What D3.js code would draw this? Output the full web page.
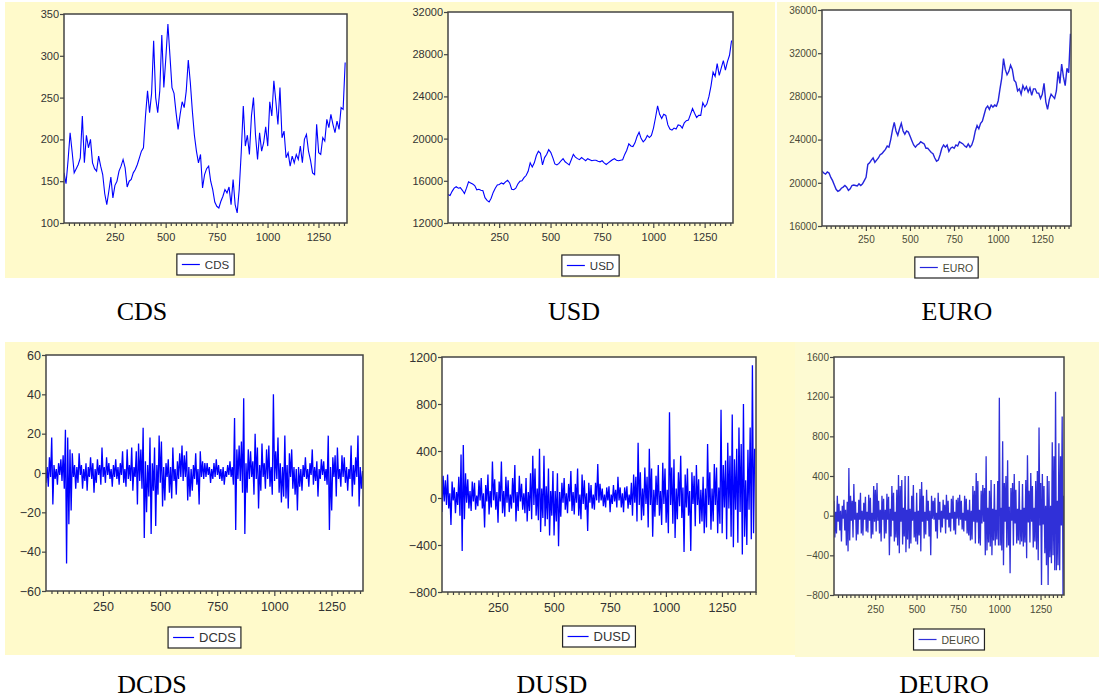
<!DOCTYPE html>
<html>
<head>
<meta charset="utf-8">
<script src="https://cdn.jsdelivr.net/npm/d3@7"></script>
<style>
  body { margin: 0; background: #fff; }
  svg { display: block; }
  .axis text { font-family: Arial, "Liberation Sans", sans-serif; }
  .legend text { font-family: Arial, "Liberation Sans", sans-serif; }
  .caption { font-family: "Times New Roman", "Liberation Serif", serif; font-size: 26px; fill: #000; }
</style>
</head>
<body>
<svg id="chart" width="1099" height="699"></svg>
<script>
// level series, one value every 10 observations (obs 1, 11, 21, ...)
const cds = [160,147,175,208,185,160,165,170,178,228,172,205,190,200,172,165,162,180,168,158,
  135,122,138,155,130,145,150,162,168,176,166,143,150,152,160,164,170,178,186,190,
  228,258,232,255,318,250,232,258,325,262,298,338,300,262,255,232,212,230,245,238,
  258,295,268,234,205,186,172,182,142,158,165,168,150,140,125,120,118,126,132,140,
  136,143,122,152,122,112,140,185,240,192,205,182,228,250,205,176,208,186,196,215,
  192,245,228,270,245,218,262,202,210,178,184,168,180,172,182,176,192,172,200,206,
  186,175,160,158,218,184,182,202,198,224,214,230,218,208,222,212,238,236,292];

const usd = [14700,14600,15000,15300,15450,15300,15350,15100,14800,15300,15900,15800,15700,15550,15150,15200,15100,15050,14400,14150,
  14000,14350,14900,15300,15600,15650,15800,15700,15900,16050,15800,15200,15150,15300,15700,15950,16000,16300,16500,16900,
  17700,17300,17700,18400,18800,18600,17500,18200,18500,18950,18700,18200,17600,17500,17650,17900,18100,17800,17650,17500,
  18000,18500,18250,18100,18000,18200,18050,17900,18100,18000,17900,17950,17950,17850,17800,17900,17700,17550,17700,17850,
  18000,18100,17950,17900,17950,18000,18500,18900,19500,19300,19250,19600,20200,20600,20000,19700,19900,20300,20100,20300,
  21000,22000,23100,22300,21900,22300,22200,21300,20900,20800,21000,20900,21300,21250,21000,21500,21700,21750,22300,22850,
  22400,22000,22200,22200,23400,23000,23300,24000,25000,26300,25900,27100,26000,26700,27400,26500,27300,27900,29300];

const euro = [21100,20900,20800,21000,20900,20500,20200,19800,19400,19200,19300,19500,19600,19750,19600,19300,19450,19750,19800,19750,
  19700,19900,19750,19900,20200,20500,21700,21850,22100,22300,21900,22100,22300,22600,22700,22900,23100,23400,23300,24000,
  24900,25600,24800,24400,25000,25500,24800,24500,24800,24700,24300,23900,23500,23300,23500,23600,23800,23700,23600,23200,
  23200,23000,22800,22700,22300,22000,22100,22600,23200,23500,23300,23500,22900,23200,23300,23200,23500,23400,23800,23700,
  23600,23400,23300,23600,23300,23500,24000,24800,25300,25000,25500,25700,26300,26900,27100,26800,27200,27000,27200,27100,
  27600,28700,29700,31500,30500,30000,30300,30900,30500,29500,29300,28500,28700,28200,29000,28600,28900,28400,28800,28100,
  28700,28700,28300,28300,27800,28200,29200,27500,26800,27700,28200,28000,27800,28500,30300,29200,31000,29800,29000,30600,
  30200,33800];

// first differences, one value every 5 observations (obs 1, 6, 11, ...)
const dcds = [-5,3,-7,8,-2,18,-16,4,-3,2,-6,5,-1,7,-4,9,-8,22,-46,18,
  -26,12,-19,10,-2,4,-8,3,-5,10,-1,4,-8,2,-4,5,-9,3,-2,8,
  -3,5,-10,2,-5,7,-1,4,-6,13,-2,3,-5,8,-1,5,-3,2,-7,4,
  -2,7,-3,3,-6,5,-1,11,-5,2,-7,12,-3,4,-4,13,-9,3,-2,11,
  -16,15,-4,12,-8,23,-33,6,-20,4,-12,18,-31,5,-9,13,-27,4,-11,19,
  -5,16,-17,3,-14,5,-2,7,-10,3,-13,13,-4,2,-11,6,-3,10,-2,14,
  -4,9,-2,11,-14,3,-12,2,-9,4,-3,10,-6,2,-16,11,-2,6,-3,5,
  -2,5,-1,3,-5,2,-3,5,-2,7,-1,4,-3,2,-4,3,-6,1,-2,4,
  -1,6,-2,3,-6,28,-29,12,-3,14,-4,16,-10,38,-31,5,-10,12,-3,11,
  -2,6,-11,20,-3,13,-18,4,-9,15,-2,5,-8,12,-3,14,-7,3,-11,40,
  -4,11,-3,18,-10,5,-15,3,-12,19,-13,4,-18,10,-2,12,-8,3,-11,2,
  -19,3,-7,2,-9,4,-2,8,-3,2,-7,5,-1,12,-6,3,-4,6,-12,2,
  -3,7,-1,6,-4,2,-6,19,-29,3,-19,8,-2,9,-12,13,-3,2,-7,9,
  -2,8,-5,3,-9,2,-3,14,-12,4,-6,8,-2,19,-17,3,-8,1];

const dusd = [-120,190,-30,150,-60,200,-90,40,-230,140,-20,90,-130,50,-60,180,-150,370,-450,450,
  -180,210,-40,160,-90,60,-110,140,-30,130,-100,20,-70,150,-20,170,-90,40,-250,110,
  -30,200,-140,60,-80,310,-20,160,-100,50,-210,140,-30,310,-130,60,-160,180,-40,150,
  -120,30,-90,170,-40,280,-200,50,-110,190,-30,120,-100,40,-130,170,-200,50,-110,210,
  -180,360,-60,250,-150,80,-190,420,-290,80,-170,360,-240,100,-180,250,-320,60,-150,230,
  -320,60,-200,210,-410,50,-160,130,-40,170,-100,40,-130,120,-30,230,-110,50,-140,120,
  -40,250,-150,30,-180,200,-50,150,-100,40,-280,130,-40,110,-90,30,-100,130,-20,290,
  -40,120,-20,80,-70,30,-80,90,-20,100,-120,30,-50,110,-30,70,-80,180,-20,90,
  -80,40,-120,90,-20,100,-90,30,-60,130,-150,200,-40,180,-200,470,-60,220,-190,80,
  -150,260,-50,180,-250,420,-60,250,-330,70,-160,190,-60,280,-150,60,-230,300,-50,250,
  -210,70,-300,730,-60,260,-220,330,-340,80,-180,220,-70,360,-170,90,-460,200,-80,250,
  -150,60,-450,220,-50,190,-240,280,-60,160,-220,70,-200,180,-300,80,-250,460,-60,220,
  -270,80,-200,290,-60,260,-300,90,-220,750,-300,280,-80,320,-350,470,-90,360,-330,710,
  -420,330,-100,420,-380,600,-120,460,-480,800,-330,150,-400,410,-100,600,-350,1130,-300,420];

const deuro = [150,-220,40,-180,200,-60,120,-150,50,-260,100,-30,160,-150,60,-300,140,-360,480,-250,
  200,-50,150,-220,320,-40,140,-250,30,-190,160,-40,230,-180,50,-200,130,-40,190,-160,
  40,-170,210,-50,180,-230,30,-190,300,-60,260,-160,330,-50,150,-180,60,-260,200,-40,
  170,-230,60,-180,220,-40,190,-400,70,-210,300,-50,230,-260,40,-220,260,-300,410,-380,
  300,-60,360,-290,80,-210,400,-370,60,-240,400,-330,70,-280,200,-50,310,-220,40,-260,
  230,-290,50,-200,270,-360,340,-60,200,-230,40,-190,260,-50,150,-210,50,-400,200,-30,
  150,-40,180,-160,30,-230,230,-40,140,-170,50,-120,160,-30,110,-180,210,-40,150,-120,
  30,-160,170,-30,200,-150,40,-190,160,-30,180,-100,210,-40,150,-140,30,-160,200,-50,
  170,-180,60,-200,160,-250,50,-240,300,-60,250,-280,430,-70,350,-280,60,-300,250,-80,
  310,-60,280,-400,600,-350,80,-270,250,-310,360,-400,70,-250,320,-300,60,-240,350,-300,
  1190,-300,80,-350,750,-500,330,-60,400,-320,560,-300,90,-580,280,-50,330,-300,420,-80,
  260,-280,70,-250,350,-290,60,-260,320,-310,80,-270,360,-430,610,-70,250,-270,430,-60,
  300,-320,80,-260,350,-340,450,-450,890,-100,330,-700,420,-90,300,-380,100,-500,400,-700,
  350,-420,100,-480,740,-400,600,-550,1250,-550,150,-500,730,-550,600,-100,1000,-800,200];

const majorTicks = [250, 500, 750, 1000, 1250];

const panels = [
  {name: "CDS",   data: cds,   step: 10, xMax: 1390, y: [100, 350],     yStep: 50,  box: [64, 14, 347, 223],   font: 11, lineLen: 18, legGap: 31, cap: [142, 320], color: "#0000ff", text: "#333", sw: 1.1},
  {name: "USD",   data: usd,   step: 10, xMax: 1388, y: [12000, 32000], yStep: 4000, box: [448, 12, 733, 223], font: 11, lineLen: 18, legGap: 32, cap: [574, 320], color: "#0000ff", text: "#333", sw: 1.1},
  {name: "EURO",  data: euro,  step: 10, xMax: 1414, y: [16000, 36000], yStep: 4000, box: [822, 10, 1071, 226], font: 10, lineLen: 18, legGap: 31, cap: [957, 320], color: "#2424dc", text: "#4a4a38", sw: 1.4},
  {name: "DCDS",  data: dcds,  step: 5,  xMax: 1388, y: [-60, 60],      yStep: 20,  box: [46, 355, 363, 591],  font: 12.5, lineLen: 21, legGap: 36, cap: [152, 693], color: "#0000ff", text: "#333", sw: 1.3},
  {name: "DUSD",  data: dusd,  step: 5,  xMax: 1402, y: [-800, 1200],   yStep: 400, box: [442, 357, 756, 592], font: 12.5, lineLen: 21, legGap: 34, cap: [552, 693], color: "#0000ff", text: "#333", sw: 1.3},
  {name: "DEURO", data: deuro, step: 5,  xMax: 1392, y: [-800, 1600],   yStep: 400, box: [834, 357, 1064, 595], font: 10, lineLen: 18, legGap: 34, cap: [944, 693], color: "#3030d8", text: "#4a4a38", sw: 1.3}
];

const svg = d3.select("#chart");

// pale yellow graph backgrounds
const backs = [
  [5, 2, 770, 276, "#fffacb"],
  [777, 2, 322, 276, "#fdfad2"],
  [5, 342, 790, 313, "#fffacb"],
  [795, 342, 304, 315, "#fdfad2"]
];
svg.selectAll("rect.back")
  .data(backs)
  .enter().append("rect")
  .attr("class", "back")
  .attr("x", d => d[0]).attr("y", d => d[1])
  .attr("width", d => d[2]).attr("height", d => d[3])
  .attr("fill", d => d[4]);

panels.forEach(function (p, k) {
  let [x0, y0, x1, y1] = p.box;
  let w = x1 - x0, h = y1 - y0;

  let x = d3.scaleLinear().domain([1, p.xMax]).range([0, w]);
  let y = d3.scaleLinear().domain(p.y).range([h, 0]);

  let g = svg.append("g").attr("transform", "translate(" + x0 + "," + y0 + ")");

  g.append("rect")
    .attr("width", w).attr("height", h)
    .attr("fill", "#fff");

  g.append("clipPath").attr("id", "clip" + k)
    .append("rect").attr("width", w).attr("height", h);

  let line = d3.line()
    .x((d, i) => x(1 + i * p.step))
    .y(d => y(d));

  g.append("path")
    .datum(p.data)
    .attr("clip-path", "url(#clip" + k + ")")
    .attr("fill", "none")
    .attr("stroke", p.color)
    .attr("stroke-width", p.sw)
    .attr("stroke-linejoin", "miter")
    .attr("d", line);

  // y axis
  let yTicks = d3.range(p.y[0], p.y[1] + 1, p.yStep);
  let yAxis = g.append("g").attr("class", "axis")
    .call(d3.axisLeft(y).tickValues(yTicks).tickSize(4).tickPadding(1).tickFormat(d3.format("d")));

  // x axis: minor ticks every 25 obs, labels at multiples of 250
  let xTicks = d3.range(25, p.xMax, 25);
  let xAxis = g.append("g").attr("class", "axis")
    .attr("transform", "translate(0," + h + ")")
    .call(d3.axisBottom(x).tickValues(xTicks).tickSize(3)
      .tickPadding(k < 3 ? 7 : 8)
      .tickFormat(d => majorTicks.includes(d) ? d : ""));
  xAxis.selectAll(".tick line")
    .attr("y2", d => majorTicks.includes(d) ? 5 : 3);

  [yAxis, xAxis].forEach(function (a) {
    a.select(".domain").remove();
    a.selectAll(".tick line").attr("stroke", "#444").attr("stroke-width", 1.2);
    a.selectAll("text").attr("fill", p.text).style("font-size", p.font + "px");
  });

  // frame
  g.append("rect")
    .attr("width", w).attr("height", h)
    .attr("fill", "none")
    .attr("stroke", "#444")
    .attr("stroke-width", 1.5);

  // legend box
  let leg = svg.append("g").attr("class", "legend");
  let lt = leg.append("text")
    .attr("y", 15)
    .attr("fill", p.text)
    .style("font-size", (p.font + 0.5) + "px")
    .text(p.name);
  let tw = lt.node().getComputedTextLength();
  let bw = 5 + p.lineLen + 5 + tw + 5, bh = 21;
  let bx = x0 + w / 2 - bw / 2, by = y1 + p.legGap;
  leg.attr("transform", "translate(" + bx + "," + by + ")");
  leg.insert("rect", "text")
    .attr("width", bw).attr("height", bh)
    .attr("fill", "#fff")
    .attr("stroke", "#222")
    .attr("stroke-width", 1.2);
  leg.append("line")
    .attr("x1", 5).attr("x2", 5 + p.lineLen)
    .attr("y1", bh / 2).attr("y2", bh / 2)
    .attr("stroke", p.color).attr("stroke-width", 1.2);
  lt.attr("x", 5 + p.lineLen + 5);

  // caption under the graph
  svg.append("text")
    .attr("class", "caption")
    .attr("x", p.cap[0]).attr("y", p.cap[1])
    .attr("text-anchor", "middle")
    .text(p.name);
});
</script>
</body>
</html>
